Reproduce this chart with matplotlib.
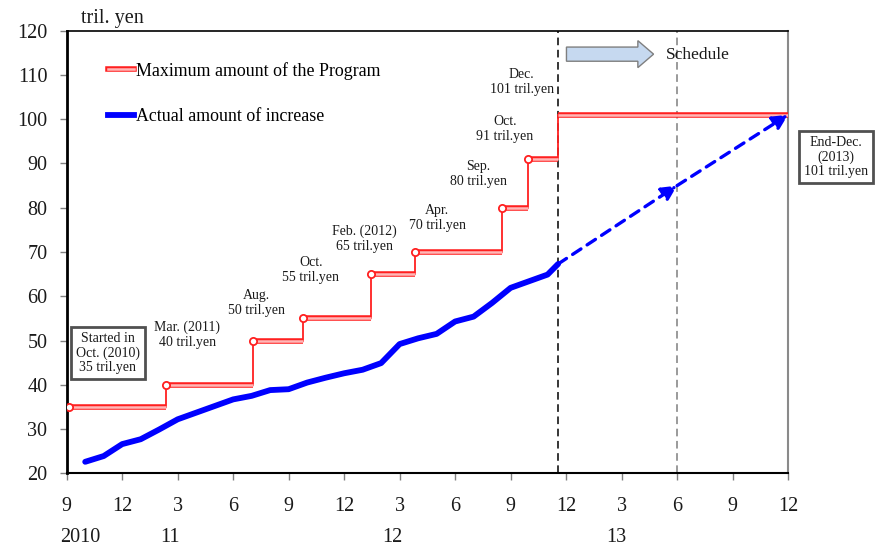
import matplotlib
matplotlib.use("Agg")
import matplotlib.pyplot as plt
from matplotlib.lines import Line2D
from matplotlib.patches import FancyArrow
from matplotlib.legend_handler import HandlerTuple
import matplotlib.transforms as mtransforms

plt.rcParams['font.family'] = ['Liberation Serif', 'DejaVu Serif']

# ---- data (x = months after end-Sep 2010) ----
tick_labels = ['9', '12', '3', '6', '9', '12', '3', '6', '9', '12', '3', '6', '9', '12']
year_labels = ['2010', '11', '12', '13']

step_months = [0.13, 5.36, 10.07, 12.8, 16.45, 18.82, 23.55, 24.94, 26.57]
step_values = [35, 40, 50, 55, 65, 70, 80, 91, 101]
step_end = 39

actual_months = [1, 2, 3, 4, 5, 6, 7, 8, 9, 10, 11, 12, 13, 14, 15, 16, 17, 18,
                 19, 20, 21, 22, 23, 24, 25, 26, 26.57]
actual_values = [22.6, 23.9, 26.6, 27.7, 29.9, 32.2, 33.7, 35.2, 36.7, 37.5, 38.8,
                 39.0, 40.5, 41.6, 42.6, 43.4, 44.9, 49.2, 50.5, 51.5, 54.3, 55.4,
                 58.5, 61.9, 63.4, 64.9, 67.3]

plan_months = [26.57, 33, 39]
plan_values = [67.3, 85, 101]

step_texts = ['Mar. (2011)\n40 tril.yen', 'Aug.\n50 tril.yen', 'Oct.\n55 tril.yen',
              'Feb. (2012)\n65 tril.yen', 'Apr.\n70 tril.yen', 'Sep.\n80 tril.yen',
              'Oct.\n91 tril.yen', 'Dec.\n101 tril.yen']

# ---- layout ----
text_pos = [(6.53, 51.3), (10.25, 58.4), (13.2, 66.0), (16.09, 73.1),
            (20.03, 77.6), (22.24, 87.6), (23.68, 97.9), (24.6, 108.5)]
year_pos = [0.75, 5.6, 17.6, 29.7]

fig = plt.figure(figsize=(8.8, 5.48), dpi=100)
ax = fig.add_axes([0.0758, 0.1363, 0.8197, 0.8077])
ax.set_xlim(0, 39)
ax.set_ylim(20, 120)

red = '#ff2020'
pink = '#ffb8b8'

# red step line: horizontals as double lines, verticals thin
for i in range(len(step_values)):
    x0 = step_months[i]
    x1 = step_months[i + 1] if i + 1 < len(step_months) else step_end
    ax.plot([x0, x1], [step_values[i], step_values[i]], color=red, lw=4.0,
            solid_capstyle='butt', zorder=3)
    ax.plot([x0, x1], [step_values[i], step_values[i]], color=pink, lw=1.8,
            solid_capstyle='butt', zorder=3.1)
    if i + 1 < len(step_months):
        ax.plot([x1, x1], [step_values[i], step_values[i + 1]], color=red, lw=1.3, zorder=3)
ax.plot(step_months[:-1], step_values[:-1], 'o', ms=5.2, mfc='white', mec=red,
        mew=1.3, zorder=4, ls='none')

# actual line
ax.plot(actual_months, actual_values, color='#0000ff', lw=4.2, zorder=5,
        solid_capstyle='round', solid_joinstyle='round')

# planned dashed arrows
for i in range(len(plan_months) - 1):
    ax.annotate('', xy=(plan_months[i + 1], plan_values[i + 1]),
                xytext=(plan_months[i], plan_values[i]),
                arrowprops=dict(arrowstyle='-|>,head_length=0.9,head_width=0.45',
                                color='#0000ff', lw=2.4, ls=(0, (3, 2.2)),
                                shrinkA=0, shrinkB=0), zorder=5)

# vertical dashed lines
ax.axvline(26.57, color='black', lw=1.1, ls=(0, (5, 3)), zorder=2)
ax.axvline(33, color='#7f7f7f', lw=1.1, ls=(0, (5, 3)), zorder=2)

# schedule arrow
ax.add_patch(FancyArrow(27.02, 114.7, 4.71, 0, width=3.2, head_width=6.1,
                        head_length=0.85, length_includes_head=True,
                        fc='#c6d9f0', ec='#7f7f7f', lw=1.0, zorder=3))
ax.text(32.4, 114.5, 'Schedule', fontsize=12.5, ha='left', va='center', color='#1a1a1a')

# step annotations
for (tx, ty), s in zip(text_pos, step_texts):
    ax.text(tx, ty, s, fontsize=10, ha='center', va='center', linespacing=1.2,
            color='#1a1a1a')

box = dict(boxstyle='square,pad=0.35', fc='white', ec='#505050', lw=2.0)
ax.text(2.23, 47.2, 'Started in\nOct. (2010)\n35 tril.yen', fontsize=10,
        ha='center', va='center', linespacing=1.15, bbox=box, color='#1a1a1a', zorder=6)
ax.text(41.6, 91.5, 'End-Dec.\n(2013)\n101 tril.yen', fontsize=10,
        ha='center', va='center', linespacing=1.15, bbox=box, color='#1a1a1a',
        clip_on=False, zorder=6)

# axes styling
ax.set_xticks(range(0, 40, 3))
ax.set_xticklabels(tick_labels)
ax.set_yticks(range(20, 121, 10))
ax.tick_params(axis='x', direction='out', length=5, width=1, color='#808080',
               pad=12, labelsize=14.5)
ax.tick_params(axis='y', direction='out', length=5, width=1, color='#808080',
               pad=9, labelsize=14.5)
for lab in ax.get_xticklabels() + ax.get_yticklabels():
    lab.set_color('#1a1a1a')
ax.spines['left'].set_linewidth(2.0)
ax.spines['left'].set_color('black')
ax.spines['bottom'].set_linewidth(1.5)
ax.spines['bottom'].set_color('black')
ax.spines['top'].set_linewidth(1.2)
ax.spines['top'].set_color('black')
ax.spines['right'].set_linewidth(1.5)
ax.spines['right'].set_color('#8a8a8a')

trans = mtransforms.blended_transform_factory(ax.transData, ax.transAxes)
for xp, s in zip(year_pos, year_labels):
    ax.text(xp, -0.144, s, transform=trans, fontsize=14.5, ha='center', va='center',
            color='#1a1a1a')

ax.text(0.02, 1.027, 'tril. yen', transform=ax.transAxes, fontsize=14.5,
        ha='left', va='center', color='#1a1a1a')

# legend
h_red = (Line2D([], [], color=red, lw=4.0), Line2D([], [], color=pink, lw=1.8))
h_blue = Line2D([], [], color='#0000ff', lw=4.2)
leg = ax.legend([h_red, h_blue], ['Maximum amount of the Program', 'Actual amount of increase'],
                handler_map={tuple: HandlerTuple(ndivide=1, pad=0)},
                loc='upper left', bbox_to_anchor=(0.057, 0.93), frameon=False,
                fontsize=12.9, handlelength=1.45, handletextpad=0.1, labelspacing=1.6,
                borderpad=0, borderaxespad=0)

fig.savefig('out.png', dpi=100)
